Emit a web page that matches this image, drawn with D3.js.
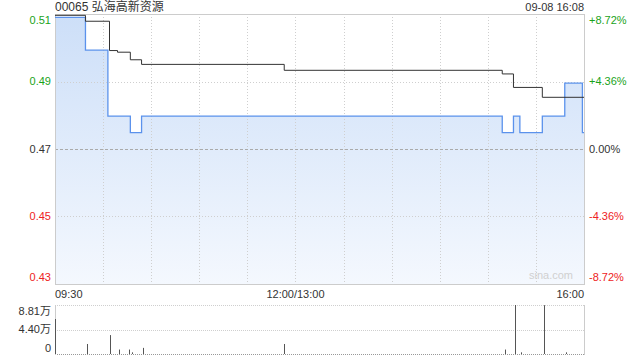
<!DOCTYPE html>
<html>
<head>
<meta charset="utf-8">
<script src="https://cdn.jsdelivr.net/npm/d3@7"></script>
<style>
  html, body { margin: 0; padding: 0; background: #fff; }
  svg { display: block; font-family: Arial, "Liberation Sans", "Noto Sans CJK SC", sans-serif; }
</style>
</head>
<body>
<svg id="chart" width="640" height="360"></svg>
<script>
// minutes since 09:30, lunch break removed (0..330)
const title = "00065 弘海高新资源";
const stamp = "09-08 16:08";
const prevClose = 0.47;
const priceTicks = [0.511, 0.4905, 0.47, 0.4495, 0.429];
const priceLabels = ["0.51", "0.49", "0.47", "0.45", "0.43"];
const pctLabels = ["+8.72%", "+4.36%", "0.00%", "-4.36%", "-8.72%"];
const timeTicks = [0, 150, 330];
const timeLabels = ["09:30", "12:00/13:00", "16:00"];

// price change points (step after)
const priceTimes = [0, 19, 33, 47, 54, 279, 286, 290, 304, 318, 329, 330];
const priceValues = [0.51, 0.50, 0.48, 0.475, 0.48, 0.475, 0.48, 0.475, 0.48, 0.49, 0.475, 0.475];

// average price change points
const avgTimes = [0, 19, 34, 39, 47, 54, 143, 279, 286, 304, 330];
const avgValues = [0.5106, 0.5088, 0.4999, 0.4994, 0.4971, 0.4957, 0.4939, 0.4928, 0.4887, 0.4857, 0.4857];

// volume (万)
const volTimes = [0, 20, 34, 40, 46, 48, 55, 143, 281, 287, 291, 305, 319];
const volValues = [6.29, 1.8, 3.4, 0.8, 0.8, 0.3, 1.1, 1.8, 0.8, 8.81, 0.3, 8.78, 0.3];
const volTicks = [8.81, 4.40, 0];
const volLabels = ["8.81万", "4.40万", "0"];

const svg = d3.select("#chart");
const pLeft = 55, pRight = 584, pTop = 14, pBottom = 284;
const vTop = 305, vBottom = 354;

const x = d3.scaleLinear().domain([0, 330]).range([pLeft, pRight]);
const y = d3.scaleLinear().domain([0.429, 0.511]).range([pBottom, pTop]);
const yv = d3.scaleLinear().domain([0, 8.81]).range([vBottom, vTop]);

const green = "#1aa31a", red = "#ee2222", dark = "#333";
const colorFor = v => Math.abs(v - prevClose) < 1e-6 ? dark : (v > prevClose ? green : red);

// gradient
const defs = svg.append("defs");
const grad = defs.append("linearGradient").attr("id", "fillGrad")
    .attr("x1", 0).attr("y1", 0).attr("x2", 0).attr("y2", 1);
grad.append("stop").attr("offset", "0%").attr("stop-color", "#cddff8");
grad.append("stop").attr("offset", "100%").attr("stop-color", "#f4f8fe");

// area under price
const price = priceTimes.map((t, i) => [t, priceValues[i]]);
const area = d3.area()
    .x(d => x(d[0])).y0(pBottom).y1(d => y(d[1]))
    .curve(d3.curveStepAfter);
svg.append("path").datum(price)
    .attr("d", area)
    .attr("fill", "url(#fillGrad)");

// vertical grid
const vgrid = d3.range(30, 330, 30);
svg.append("g").selectAll("line").data(vgrid).join("line")
    .attr("x1", d => Math.round(x(d)) + 0.5).attr("x2", d => Math.round(x(d)) + 0.5)
    .attr("y1", pTop).attr("y2", pBottom)
    .attr("stroke", "#cfcfcf").attr("stroke-dasharray", "1,2");

// horizontal grid
svg.append("g").selectAll("line").data(priceTicks.slice(1, 4)).join("line")
    .attr("x1", pLeft).attr("x2", pRight)
    .attr("y1", d => Math.round(y(d)) + 0.5).attr("y2", d => Math.round(y(d)) + 0.5)
    .attr("stroke", d => d === prevClose ? "#aaa" : "#cfcfcf")
    .attr("stroke-dasharray", d => d === prevClose ? "3,2" : "1,2");

// frame
svg.append("rect")
    .attr("x", pLeft + 0.5).attr("y", pTop + 0.5)
    .attr("width", pRight - pLeft).attr("height", pBottom - pTop)
    .attr("fill", "none").attr("stroke", "#ccc");

// price line
const line = d3.line().x(d => x(d[0])).y(d => y(d[1])).curve(d3.curveStepAfter);
svg.append("path").datum(price)
    .attr("d", line)
    .attr("fill", "none").attr("stroke", "#5b92ec").attr("stroke-width", 1.3);

// average line
const avg = avgTimes.map((t, i) => [t, avgValues[i]]);
svg.append("path").datum(avg)
    .attr("d", line)
    .attr("fill", "none").attr("stroke", "#333").attr("stroke-width", 1);

// y labels
const labelY = (d, i) => i === 0 ? y(d) + 6 : (i === priceTicks.length - 1 ? y(d) - 7 : y(d));
svg.append("g").selectAll("text").data(priceTicks).join("text")
    .attr("x", 51).attr("y", labelY)
    .attr("dy", "0.35em").attr("text-anchor", "end")
    .attr("font-size", 11).attr("fill", colorFor)
    .text((d, i) => priceLabels[i]);
svg.append("g").selectAll("text").data(priceTicks).join("text")
    .attr("x", 589).attr("y", labelY)
    .attr("dy", "0.35em").attr("text-anchor", "start")
    .attr("font-size", 11).attr("fill", colorFor)
    .text((d, i) => pctLabels[i]);

// x labels
svg.append("g").selectAll("text").data(timeTicks).join("text")
    .attr("x", d => x(d)).attr("y", 294)
    .attr("dy", "0.35em")
    .attr("text-anchor", (d, i) => i === 0 ? "start" : (i === timeTicks.length - 1 ? "end" : "middle"))
    .attr("font-size", 11).attr("fill", dark)
    .text((d, i) => timeLabels[i]);

// title & time stamp
svg.append("text").attr("x", pLeft).attr("y", 11)
    .attr("font-size", 12).attr("fill", dark).text(title);
svg.append("text").attr("x", pRight).attr("y", 11)
    .attr("text-anchor", "end").attr("font-size", 11).attr("fill", dark).text(stamp);

// watermark
svg.append("text").attr("x", 573).attr("y", 279)
    .attr("text-anchor", "end").attr("font-size", 11).attr("fill", "#d0d0d0").text("sina.com");

// volume panel
svg.append("line").attr("x1", pLeft).attr("x2", pRight)
    .attr("y1", vTop + 0.5).attr("y2", vTop + 0.5)
    .attr("stroke", "#cfcfcf").attr("stroke-dasharray", "1,1");
svg.append("line").attr("x1", pLeft).attr("x2", pRight)
    .attr("y1", Math.round(yv(4.40)) + 0.5).attr("y2", Math.round(yv(4.40)) + 0.5)
    .attr("stroke", "#cfcfcf").attr("stroke-dasharray", "1,1");
svg.append("line").attr("x1", pLeft).attr("x2", pRight)
    .attr("y1", vBottom + 0.5).attr("y2", vBottom + 0.5)
    .attr("stroke", "#999").attr("stroke-dasharray", "1,1");
[pLeft, pRight].forEach(xx => {
    svg.append("line").attr("x1", xx + 0.5).attr("x2", xx + 0.5)
        .attr("y1", vTop).attr("y2", vBottom + 1)
        .attr("stroke", "#ccc");
});

svg.append("g").selectAll("line").data(volTimes.map((t, i) => [t, volValues[i]])).join("line")
    .attr("x1", d => Math.round(x(d[0])) + 0.5).attr("x2", d => Math.round(x(d[0])) + 0.5)
    .attr("y1", vBottom).attr("y2", d => yv(d[1]))
    .attr("stroke", "#555").attr("stroke-width", 1);

const volLabelY = [vTop + 6, yv(4.40), vBottom - 6];
svg.append("g").selectAll("text").data(volTicks).join("text")
    .attr("x", 51).attr("y", (d, i) => volLabelY[i])
    .attr("dy", "0.35em").attr("text-anchor", "end")
    .attr("font-size", 11).attr("fill", dark)
    .text((d, i) => volLabels[i]);
</script>
</body>
</html>
